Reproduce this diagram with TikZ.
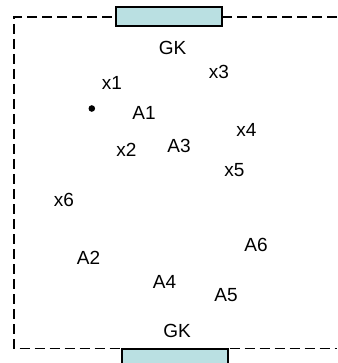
\documentclass[tikz,border=0pt]{standalone}
\usepackage{fontspec}
\setmainfont{Liberation Sans}
\definecolor{gkfill}{RGB}{186,224,226}
\begin{document}
\begin{tikzpicture}[x=1pt,y=-1pt,
  lbl/.style={inner sep=0pt,font=\fontsize{19}{22}\selectfont},
  border/.style={line width=1.3pt,dash pattern=on 10pt off 5pt},
  gk/.style={draw=black,line width=2pt,fill=gkfill}]
\useasboundingbox (0,0) rectangle (337,363);
\coordinate (tr) at (337,17);
\coordinate (tl) at (14,17);
\coordinate (bl) at (14,348.5);
\coordinate (br) at (337,348.5);
\draw[border] (tr) -- (tl) -- (bl) -- (br);
\node[gk,minimum width=106pt,minimum height=19pt,inner sep=0pt] (gktop) at (168.5,16.5) {};
\node[gk,minimum width=106pt,minimum height=20pt,inner sep=0pt] (gkbot) at (175,358.5) {};
\node[lbl] (GK1) at (172.5,47.5) {GK};
\node[lbl] (x3) at (219,71.5) {x3};
\node[lbl] (x1) at (112,83) {x1};
\fill (91.8,108.5) circle (3.3pt) coordinate (dot);
\node[lbl] (A1) at (144,113) {A1};
\node[lbl] (x4) at (246.5,130) {x4};
\node[lbl] (x2) at (126.5,150) {x2};
\node[lbl] (A3) at (179,145.5) {A3};
\node[lbl] (x5) at (234.5,170) {x5};
\node[lbl] (x6) at (64,200) {x6};
\node[lbl] (A6) at (256,245) {A6};
\node[lbl] (A2) at (88.5,257.5) {A2};
\node[lbl] (A4) at (164.5,281.5) {A4};
\node[lbl] (A5) at (226,295.5) {A5};
\node[lbl] (GK2) at (177,331) {GK};
\end{tikzpicture}
\end{document}
